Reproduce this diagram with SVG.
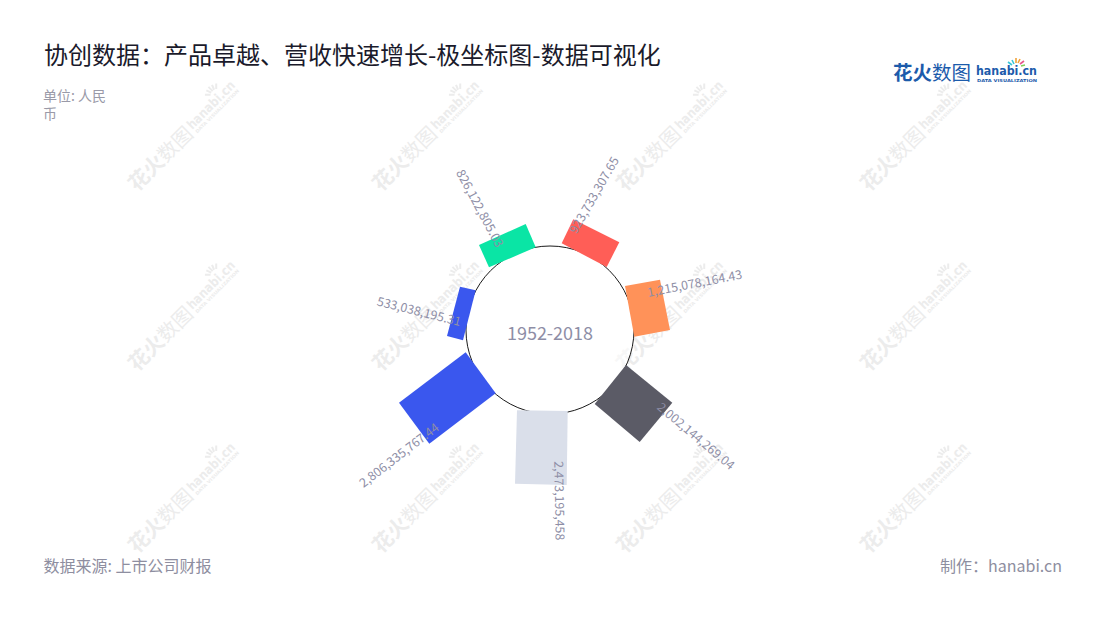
<svg xmlns="http://www.w3.org/2000/svg" xmlns:xlink="http://www.w3.org/1999/xlink" width="1100" height="620" viewBox="0 0 1100 620">
<style>
text{font-family:"Noto Sans CJK SC","Noto Sans",sans-serif}
.title{font-size:24px;fill:#1a1a2b}
.unit{font-size:14px;fill:#9a9aa8}
.foot{font-size:16px;fill:#8e8ea0}
.center{font-size:18px;fill:#8e8ea6;text-anchor:middle}
.val{font-size:12.4px;fill:#8e8ea6;text-anchor:middle}
.wm{fill:#ececec}
.wmb{font-weight:700}
.lg{fill:#1c5bab}
.lat{font-family:"DejaVu Sans",sans-serif;font-weight:700}
</style>
<defs>
<g id="wm">
<text x="-73" y="8" font-size="20.5" class="wm wmb">花火</text>
<text x="-32" y="8" font-size="20" class="wm">数图</text>
<text x="10" y="3" font-size="13" class="wm lat" textLength="62" lengthAdjust="spacingAndGlyphs">hanabi.cn</text>
<text x="11" y="9" font-size="4.5" class="wm lat" textLength="60" lengthAdjust="spacingAndGlyphs">DATA VISUALIZATION</text>
<path d="M48-9l-4-4M50-10l-2-5M52-10v-6M54-10l2-5M56-9l4-4" stroke="#ececec" stroke-width="2" fill="none"/>
</g>
</defs>
<rect width="1100" height="620" fill="#fff"/>
<g id="watermarks">
<use xlink:href="#wm" transform="translate(183 135) rotate(-45)"/>
<use xlink:href="#wm" transform="translate(427 135) rotate(-45)"/>
<use xlink:href="#wm" transform="translate(671 135) rotate(-45)"/>
<use xlink:href="#wm" transform="translate(915 135) rotate(-45)"/>
<use xlink:href="#wm" transform="translate(183 315) rotate(-45)"/>
<use xlink:href="#wm" transform="translate(427 315) rotate(-45)"/>
<use xlink:href="#wm" transform="translate(671 315) rotate(-45)"/>
<use xlink:href="#wm" transform="translate(915 315) rotate(-45)"/>
<use xlink:href="#wm" transform="translate(183 497) rotate(-45)"/>
<use xlink:href="#wm" transform="translate(427 497) rotate(-45)"/>
<use xlink:href="#wm" transform="translate(671 497) rotate(-45)"/>
<use xlink:href="#wm" transform="translate(915 497) rotate(-45)"/>
</g>
<text class="title" x="44" y="64">协创数据&#65306;产品卓越、营收快速增长-极坐标图-数据可视化</text>
<g id="unit"><text class="unit" x="43" y="101">单位: 人民</text><text class="unit" x="43" y="119">币</text></g>
<g id="logo">
<text x="893" y="80" font-size="19.5" font-weight="700" class="lg">花火</text>
<text x="932" y="80" font-size="19.5" class="lg">数图</text>
<text x="976" y="75" font-size="12" class="lg lat" textLength="61" lengthAdjust="spacingAndGlyphs">hanabi.cn</text>
<text x="977" y="82" font-size="4" class="lg lat" textLength="60" lengthAdjust="spacingAndGlyphs">DATA VISUALIZATION</text>
<path d="M1012 65l-4-3M1014 64l-2-4" stroke-width="1.6" fill="none" stroke="#3ac6d8"/>
<path d="M1016 63v-5M1018 63l2-4" stroke-width="1.6" fill="none" stroke="#f2a33a"/>
<path d="M1020 64l4-3" stroke-width="1.6" fill="none" stroke="#e8568c"/>
<path d="M1021 66l4-1" stroke-width="1.6" fill="none" stroke="#7fce5a"/>
</g>
<g id="hole"><circle cx="550" cy="330" r="84" fill="#fff" fill-opacity=".6" stroke="#000" stroke-width=".9"/></g>
<g id="bars">
<polygon id="bar-green" points="479,245 525.7,224 535.7,247.3 489,267.3" fill="#0ae5a5"/>
<polygon id="bar-red" points="573.3,219.3 619.3,242.3 606.7,267 561.7,243.3" fill="#ff5e57"/>
<polygon id="bar-orange" points="625,286 660,279.7 670,330 634.3,336.7" fill="#ff9259"/>
<polygon id="bar-dark" points="626,365 672.3,402.7 639.7,442 594.7,404" fill="#5b5b66"/>
<polygon id="bar-light" points="517,410.3 567.7,411 566.7,485 515,483.7" fill="#dadfea"/>
<polygon id="bar-blue-large" points="465.7,352.3 495.7,393.3 429.3,443.7 399,402.7" fill="#3a57ee"/>
<polygon id="bar-blue-small" points="460,286.7 475.7,290.3 463,340.3 447,336" fill="#3a57ee"/>
</g>
<g id="labels">
<text class="center" x="550" y="340">1952-2018</text>
<text class="val" transform="translate(480 208.3) rotate(62)" y="4.5">826,122,805.03</text>
<text class="val" transform="translate(594 195) rotate(-60)" y="4.5">923,733,307.65</text>
<text class="val" transform="translate(694.7 283.3) rotate(-11)" y="4.5">1,215,078,164.43</text>
<text class="val" transform="translate(696 436) rotate(40)" y="4.5">2,002,144,269.04</text>
<text class="val" transform="translate(559.5 500.7) rotate(89)" y="4.5">2,473,195,458</text>
<text class="val" transform="translate(399 455) rotate(-37.5)" y="4.5">2,806,335,767.44</text>
<text class="val" transform="translate(419 311.3) rotate(14)" y="4.5">533,038,195.31</text>
</g>
<text class="foot" x="43.5" y="572">数据来源: 上市公司财报</text>
<text class="foot" x="1062" y="572" text-anchor="end">制作&#65306;hanabi.cn</text>
</svg>
